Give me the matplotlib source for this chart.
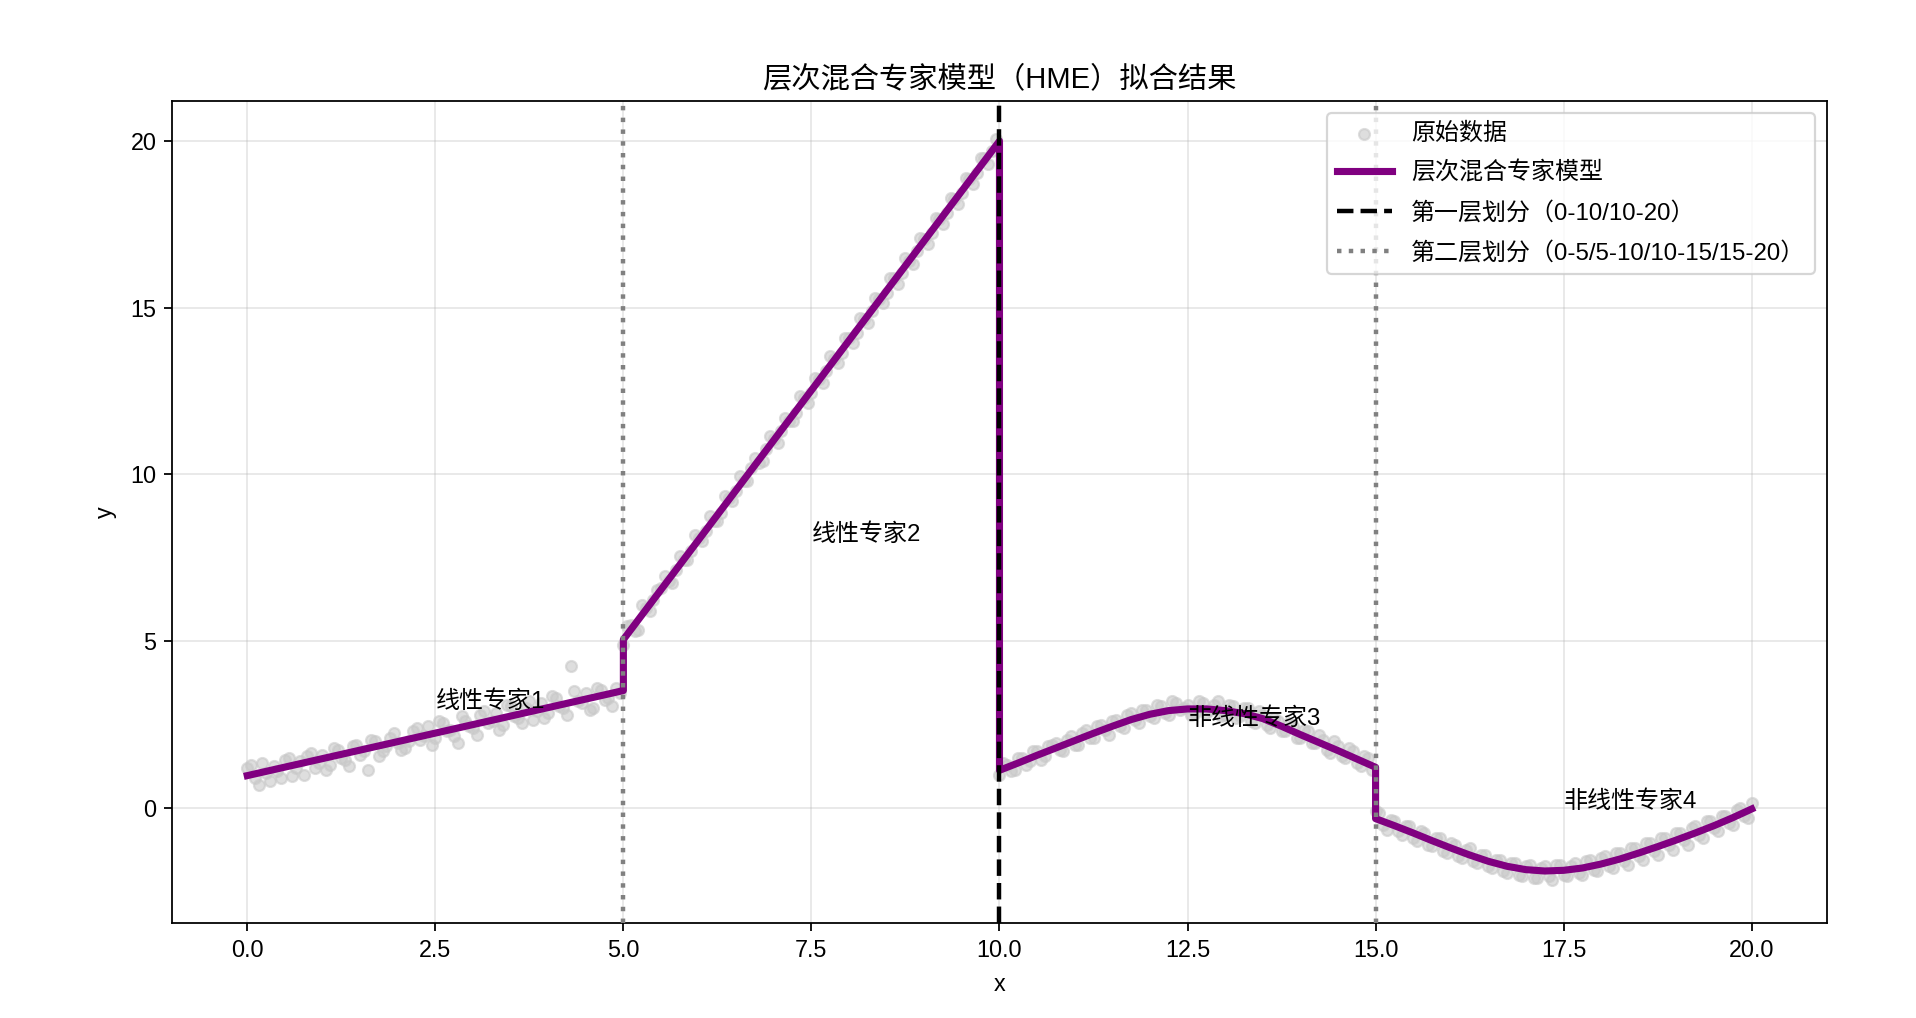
import numpy as np
import matplotlib
matplotlib.use("Agg")
import matplotlib.pyplot as plt

plt.rcParams['font.family'] = ['Liberation Sans', 'Noto Sans CJK SC', 'DejaVu Sans']
plt.rcParams['font.size'] = 10.5
plt.rcParams['axes.unicode_minus'] = False

# raw data, first pass: x = 0.0, 0.1, ... 20.0
raw_a1 = [1.2, 0.9, 1.35, 0.8, 1.1, 1.45, 0.95, 1.4, 1.55, 1.2,
          1.6, 1.3, 1.75, 1.45, 1.85, 1.6, 1.15, 2.0, 1.7, 2.1,
          1.95, 1.8, 2.3, 2.05, 2.45, 2.1, 2.55, 2.35, 1.95, 2.6,
          2.4, 2.8, 2.55, 2.85, 2.5, 3.05, 2.7, 3.0, 2.65, 3.15,
          2.85, 3.3, 3.0, 4.25, 3.2, 3.45, 3.0, 3.55, 3.3, 3.6]
raw_a2 = [4.9, 5.5, 5.35, 6.0, 6.25, 6.6, 6.8, 7.15, 7.45, 7.7,
          8.1, 8.3, 8.6, 8.85, 9.3, 9.5, 9.8, 10.2, 10.35, 10.75,
          11.05, 11.3, 11.6, 11.85, 12.3, 12.45, 12.85, 13.1, 13.45, 13.65,
          14.1, 14.25, 14.65, 14.9, 15.25, 15.45, 15.9, 16.05, 16.4, 16.7,
          17.05, 17.25, 17.65, 17.85, 18.25, 18.45, 18.85, 19.05, 19.5, 19.7]
raw_a3 = [1.0, 1.3, 1.15, 1.5, 1.4, 1.7, 1.55, 1.9, 1.75, 2.05,
          1.9, 2.25, 2.1, 2.45, 2.35, 2.6, 2.45, 2.8, 2.65, 2.95,
          2.75, 3.1, 2.85, 3.2, 2.95, 3.1, 2.85, 3.15, 2.95, 3.2,
          2.8, 3.05, 2.75, 3.0, 2.55, 2.8, 2.4, 2.6, 2.3, 2.45,
          2.1, 2.3, 1.95, 2.05, 1.65, 1.85, 1.5, 1.7, 1.25, 1.5]
raw_a4 = [-0.1, -0.5, -0.35, -0.7, -0.55, -0.9, -0.7, -1.1, -0.9, -1.3,
          -1.05, -1.45, -1.25, -1.6, -1.4, -1.75, -1.55, -1.9, -1.65, -2.0,
          -1.75, -2.1, -1.8, -2.05, -1.7, -2.0, -1.75, -1.95, -1.6, -1.85,
          -1.5, -1.75, -1.35, -1.6, -1.2, -1.45, -1.05, -1.3, -0.9, -1.1,
          -0.75, -0.95, -0.6, -0.8, -0.4, -0.6, -0.25, -0.45, -0.05, -0.25,
          0.15]

# second pass: x = 0.05, 0.15, ... 19.95
raw_b1 = [1.3, 0.7, 1.05, 1.25, 0.9, 1.5, 1.2, 1.0, 1.65, 1.35,
          1.15, 1.8, 1.5, 1.25, 1.9, 1.7, 2.05, 1.55, 1.85, 2.25,
          1.75, 2.0, 2.4, 2.15, 1.9, 2.6, 2.3, 2.15, 2.75, 2.45,
          2.2, 2.9, 2.6, 2.35, 3.1, 2.75, 2.55, 3.2, 2.9, 2.7,
          3.35, 3.05, 2.8, 3.5, 3.15, 2.95, 3.6, 3.25, 3.05, 3.45]
raw_b2 = [5.45, 5.3, 6.1, 5.9, 6.55, 6.95, 6.75, 7.55, 7.45, 8.2,
          8.0, 8.75, 8.6, 9.35, 9.2, 9.95, 9.8, 10.5, 10.4, 11.15,
          10.95, 11.7, 11.6, 12.35, 12.15, 12.9, 12.75, 13.55, 13.35, 14.1,
          13.95, 14.7, 14.55, 15.3, 15.15, 15.9, 15.7, 16.5, 16.3, 17.1,
          16.9, 17.7, 17.5, 18.3, 18.1, 18.9, 18.7, 19.5, 19.3, 20.05]
raw_b3 = [1.35, 1.1, 1.5, 1.3, 1.7, 1.45, 1.85, 1.95, 1.7, 2.15,
          1.9, 2.35, 2.1, 2.5, 2.2, 2.65, 2.4, 2.85, 2.55, 2.95,
          2.7, 3.05, 2.8, 3.15, 3.0, 2.8, 3.2, 2.85, 3.1, 2.75,
          3.1, 2.7, 3.0, 2.6, 2.9, 2.5, 2.7, 2.3, 2.55, 2.1,
          2.35, 1.95, 2.2, 1.75, 2.0, 1.55, 1.8, 1.35, 1.55, 1.15]
raw_b4 = [-0.15, -0.65, -0.4, -0.8, -0.55, -1.0, -0.75, -1.15, -0.9, -1.35,
          -1.1, -1.5, -1.2, -1.65, -1.4, -1.8, -1.55, -1.95, -1.65, -2.05,
          -1.7, -2.1, -1.75, -2.15, -1.7, -2.05, -1.65, -2.0, -1.55, -1.9,
          -1.45, -1.8, -1.35, -1.7, -1.2, -1.55, -1.05, -1.4, -0.9, -1.25,
          -0.75, -1.1, -0.55, -0.9, -0.4, -0.7, -0.25, -0.5, 0.0, -0.3]

raw_ya = raw_a1 + raw_a2 + raw_a3 + raw_a4
raw_yb = raw_b1 + raw_b2 + raw_b3 + raw_b4
raw_xa = np.linspace(0, 20, len(raw_ya))
raw_xb = np.linspace(0.05, 19.95, len(raw_yb))
raw_x = np.concatenate([raw_xa, raw_xb])
raw_y = np.array(raw_ya + raw_yb)

# HME fitted curve
fit_x = [0.0, 5.0, 5.0, 10.0, 10.0,
         10.25, 10.5, 10.75, 11.0, 11.25, 11.5, 11.75, 12.0, 12.25, 12.5,
         12.75, 13.0, 13.25, 13.5, 13.75, 14.0, 14.25, 14.5, 14.75, 15.0,
         15.0, 15.25, 15.5, 15.75, 16.0, 16.25, 16.5, 16.75, 17.0, 17.25,
         17.5, 17.75, 18.0, 18.25, 18.5, 18.75, 19.0, 19.25, 19.5, 19.75, 20.0]
fit_y = [0.97, 3.52, 5.05, 20.0, 1.13,
         1.35, 1.58, 1.80, 2.02, 2.24, 2.45, 2.65, 2.81, 2.92, 2.97,
         2.97, 2.92, 2.83, 2.68, 2.45, 2.20, 1.96, 1.72, 1.47, 1.22,
         -0.32, -0.53, -0.75, -0.98, -1.20, -1.41, -1.60, -1.75, -1.85, -1.89,
         -1.87, -1.80, -1.68, -1.53, -1.35, -1.16, -0.96, -0.75, -0.53, -0.29, -0.03]

expert_names = ['线性专家1', '线性专家2', '非线性专家3', '非线性专家4']
expert_pos = [(2.5, 3.0), (7.5, 8.0), (12.5, 2.5), (17.5, 0.0)]

fig = plt.figure(figsize=(1916 / 160, 1018 / 160), dpi=160)
ax = fig.add_axes([0.0898, 0.0933, 0.8637, 0.8075])

ax.scatter(raw_x, raw_y, s=24, color='#c8c8c8', alpha=0.6, label='原始数据', zorder=2)
ax.plot(fit_x, fit_y, color='purple', linewidth=3.2, label='层次混合专家模型', zorder=3)
ax.axvline(10, color='black', linestyle='--', linewidth=2, label='第一层划分（0-10/10-20）', zorder=4)
ax.axvline(5, color='gray', linestyle=':', linewidth=2, label='第二层划分（0-5/5-10/10-15/15-20）', zorder=4)
ax.axvline(15, color='gray', linestyle=':', linewidth=2, zorder=4)

for name, (tx, ty) in zip(expert_names, expert_pos):
    ax.text(tx, ty, name, fontsize=10.8)

ax.set_xlim(-1, 21)
ax.set_ylim(-3.45, 21.2)
ax.set_title('层次混合专家模型（HME）拟合结果', fontsize=13.2)
ax.set_xlabel('x', labelpad=5)
ax.set_ylabel('y', labelpad=6)
ax.grid(True, alpha=0.3)
ax.legend(loc='upper right', fontsize=10.8, labelspacing=0.7, handlelength=2.3)

fig.savefig('out.png', dpi=160)
